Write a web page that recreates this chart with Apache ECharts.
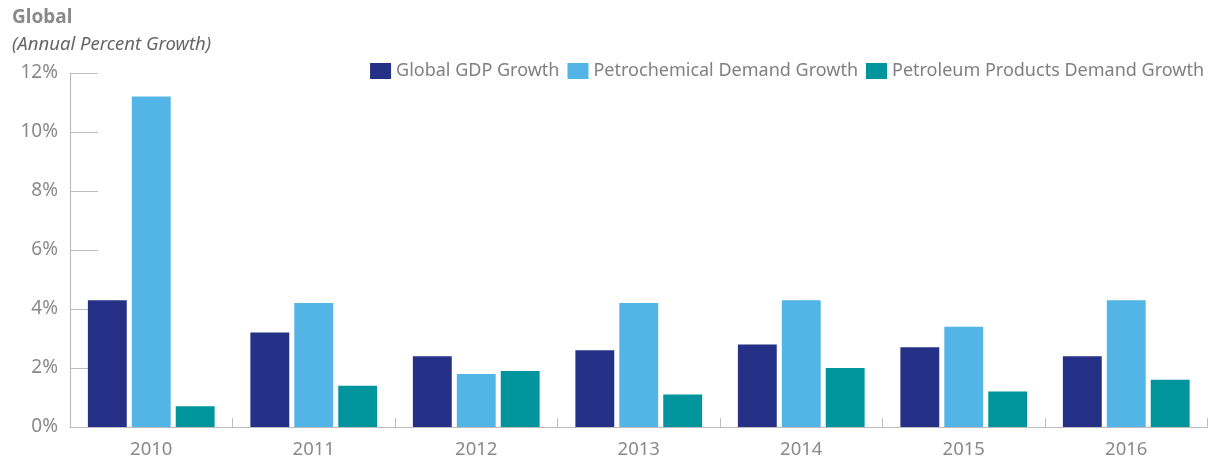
<!DOCTYPE html>
<html><head><meta charset="utf-8">
<script src="https://cdn.jsdelivr.net/npm/echarts@6/dist/echarts.min.js"></script>
<style>html,body{margin:0;padding:0;background:#fff}#c{width:1225px;height:464px}</style>
</head><body><div id="c"></div>
<script>
const categories = ['2010','2011','2012','2013','2014','2015','2016'];
const gdpGrowth = [4.3, 3.2, 2.4, 2.6, 2.8, 2.7, 2.4];
const petrochemGrowth = [11.2, 4.2, 1.8, 4.2, 4.3, 3.4, 4.3];
const petroleumGrowth = [0.7, 1.4, 1.9, 1.1, 2.0, 1.2, 1.6];
const seriesNames = ['Global GDP Growth','Petrochemical Demand Growth','Petroleum Products Demand Growth'];
const colors = ['#253087','#52b5e5','#00959d'];
const font = 'Noto Sans';
const chart = echarts.init(document.getElementById('c'));
const bar = (name, data, color) => ({
  name, type: 'bar', data, barGap: '13%', barCategoryGap: '22%',
  itemStyle: { color }
});
chart.setOption({
  animation: false,
  textStyle: { fontFamily: font },
  title: [
    { text: 'Global', left: 7, top: 3, textStyle: { fontFamily: font, fontSize: 19, fontWeight: 'bold', color: '#8a8a8a' } },
    { text: '(Annual Percent Growth)', left: 7, top: 30, textStyle: { fontFamily: font, fontSize: 18.5, fontStyle: 'italic', fontWeight: 'normal', color: '#666' } }
  ],
  legend: {
    right: 16, top: 57, itemWidth: 21, itemHeight: 16, itemGap: 8,
    textStyle: { fontFamily: font, fontSize: 18, color: '#808080' },
    data: seriesNames, icon: 'rect'
  },
  grid: { left: 70, right: 17.5, top: 73, bottom: 37 },
  xAxis: {
    type: 'category', data: categories,
    axisLine: { lineStyle: { color: '#bdbdbd', width: 1.2 } },
    axisTick: { show: true, inside: true, length: 9, lineStyle: { color: '#bdbdbd' } },
    axisLabel: { fontSize: 18.5, color: '#8a8a8a', margin: 13 }
  },
  yAxis: {
    type: 'value', min: 0, max: 12, interval: 2,
    axisLine: { show: true, lineStyle: { color: '#bdbdbd', width: 1.2 } },
    axisTick: { show: true, inside: true, length: 28, lineStyle: { color: '#bdbdbd' } },
    splitLine: { show: false },
    axisLabel: { fontSize: 19, color: '#8a8a8a', margin: 12, formatter: v => v + '%' }
  },
  series: [
    bar(seriesNames[0], gdpGrowth, colors[0]),
    bar(seriesNames[1], petrochemGrowth, colors[1]),
    bar(seriesNames[2], petroleumGrowth, colors[2])
  ]
});
</script></body></html>
